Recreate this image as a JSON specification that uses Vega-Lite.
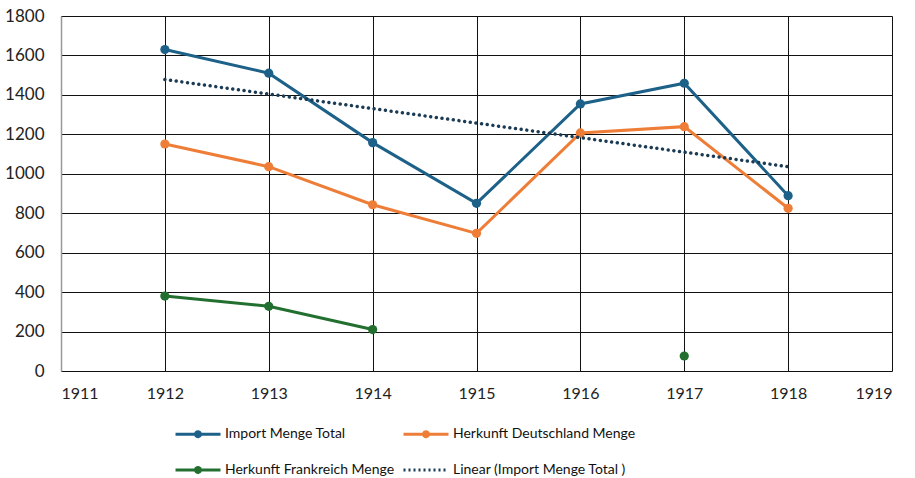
{
  "$schema": "https://vega.github.io/schema/vega-lite/v6.json",
  "width": 831,
  "height": 355,
  "autosize": {"type": "none"},
  "padding": {"left": 61, "top": 16, "right": 23, "bottom": 107},
  "background": "white",
  "config": {
    "view": {"stroke": null},
    "font": "Lato",
    "axis": {"labelFont": "Lato", "labelFontSize": 17, "labelColor": "#222", "gridColor": "#111", "gridOpacity": 1, "gridWidth": 1, "ticks": false, "domain": false, "title": null}
  },
  "data": {
    "values": [
      {"year": 1912, "series": "Import Menge Total", "value": 1630},
      {"year": 1913, "series": "Import Menge Total", "value": 1510},
      {"year": 1914, "series": "Import Menge Total", "value": 1158},
      {"year": 1915, "series": "Import Menge Total", "value": 850},
      {"year": 1916, "series": "Import Menge Total", "value": 1354},
      {"year": 1917, "series": "Import Menge Total", "value": 1459},
      {"year": 1918, "series": "Import Menge Total", "value": 889},
      {"year": 1912, "series": "Herkunft Deutschland Menge", "value": 1151},
      {"year": 1913, "series": "Herkunft Deutschland Menge", "value": 1036},
      {"year": 1914, "series": "Herkunft Deutschland Menge", "value": 843},
      {"year": 1915, "series": "Herkunft Deutschland Menge", "value": 698},
      {"year": 1916, "series": "Herkunft Deutschland Menge", "value": 1207},
      {"year": 1917, "series": "Herkunft Deutschland Menge", "value": 1239},
      {"year": 1918, "series": "Herkunft Deutschland Menge", "value": 825},
      {"year": 1912, "series": "Herkunft Frankreich Menge", "value": 380},
      {"year": 1913, "series": "Herkunft Frankreich Menge", "value": 328},
      {"year": 1914, "series": "Herkunft Frankreich Menge", "value": 210},
      {"year": 1915, "series": "Herkunft Frankreich Menge", "value": null},
      {"year": 1916, "series": "Herkunft Frankreich Menge", "value": null},
      {"year": 1917, "series": "Herkunft Frankreich Menge", "value": 76},
      {"year": 1912, "series": "Linear (Import Menge Total )", "value": 1478},
      {"year": 1918, "series": "Linear (Import Menge Total )", "value": 1036}
    ]
  },
  "encoding": {
    "x": {
      "field": "year", "type": "quantitative",
      "scale": {"domain": [1911, 1919], "nice": false, "zero": false},
      "axis": {"values": [1911, 1912, 1913, 1914, 1915, 1916, 1917, 1918, 1919], "format": "d", "labelPadding": 14, "labelFontSize": 16}
    },
    "y": {
      "field": "value", "type": "quantitative",
      "scale": {"domain": [0, 1800], "nice": false},
      "axis": {"values": [0, 200, 400, 600, 800, 1000, 1200, 1400, 1600, 1800], "format": "d", "labelPadding": 17, "domain": true, "domainColor": "#999", "domainWidth": 1.5}
    },
    "color": {
      "field": "series", "type": "nominal",
      "scale": {
        "domain": ["Import Menge Total", "Herkunft Deutschland Menge", "Herkunft Frankreich Menge", "Linear (Import Menge Total )"],
        "range": ["#1d6188", "#ee7d37", "#226f30", "#1b3b54"]
      },
      "legend": {
        "title": null,
        "orient": "none",
        "legendX": 124,
        "legendY": 405,
        "direction": "horizontal",
        "columns": 2,
        "padding": 0,
        "symbolSize": 506,
        "symbolStrokeWidth": 3,
        "labelFont": "Lato",
        "labelFontSize": 14,
        "labelColor": "#111",
        "labelOffset": 14,
        "columnPadding": 2,
        "rowPadding": 14,
        "labelLimit": 400,
        "encode": {
          "symbols": {
            "update": {
              "shape": {"signal": "datum.value === 'Linear (Import Menge Total )' ? 'M-2,0H2' : 'M-2,0H2M-0.22,0A0.22,0.22,0,1,1,0.22,0A0.22,0.22,0,1,1,-0.22,0'"},
              "fill": {"scale": "color", "field": "value"},
              "fillOpacity": {"value": 1},
              "strokeDash": {"signal": "datum.value === 'Linear (Import Menge Total )' ? [2, 3] : [1, 0]"}
            }
          }
        }
      }
    }
  },
  "layer": [
    {
      "transform": [{"filter": "datum.series !== 'Linear (Import Menge Total )'"}],
      "mark": {"type": "line", "strokeWidth": 3, "invalid": "break-paths-filter-domains"}
    },
    {
      "transform": [{"filter": "datum.series !== 'Linear (Import Menge Total )' && datum.value != null"}],
      "mark": {"type": "circle", "size": 85, "opacity": 1}
    },
    {
      "transform": [{"filter": "datum.series === 'Linear (Import Menge Total )'"}],
      "mark": {"type": "line", "strokeWidth": 3.5, "strokeDash": [0.01, 5.7], "strokeCap": "round"}
    }
  ]
}
